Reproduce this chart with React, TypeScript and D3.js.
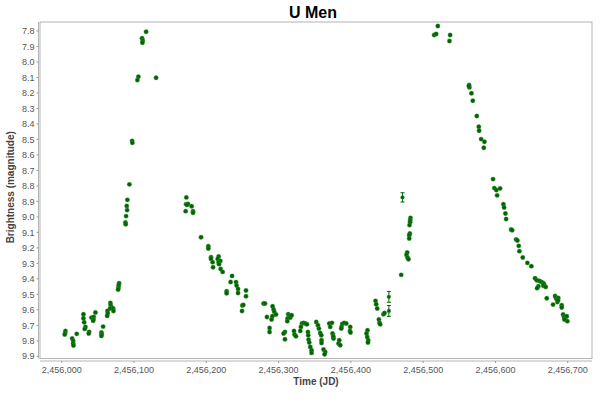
import * as d3 from 'd3';

// Light curve of U Men, JD relative to 2,456,000 and visual magnitude
const JD0 = 2456000;

const firstRise: [number, number][] = [
  [5.1, 9.736], [4.7, 9.749], [4.1, 9.759], [14.4, 9.785], [15.8, 9.801], [15.8, 9.817],
  [16.2, 9.83], [20.7, 9.755], [30.0, 9.628], [30.0, 9.654], [31.0, 9.68], [32.8, 9.71],
  [31.8, 9.723], [37.9, 9.742], [37.3, 9.753], [41.1, 9.65], [44.2, 9.646], [43.8, 9.662],
  [43.4, 9.671], [46.6, 9.617], [57.2, 9.708], [54.9, 9.746], [55.3, 9.757], [54.9, 9.768],
  [63.2, 9.607], [63.6, 9.624], [62.8, 9.639], [67.3, 9.555], [67.7, 9.57], [68.7, 9.583],
  [66.9, 9.591], [71.1, 9.591], [71.5, 9.607], [79.3, 9.428], [78.8, 9.441], [78.4, 9.458],
  [78.0, 9.469], [88.1, 9.036], [88.5, 9.047], [89.0, 8.995], [89.9, 8.929], [90.4, 8.956],
  [90.8, 8.89], [93.6, 8.79], [97.3, 8.509], [97.7, 8.522], [106.0, 8.095], [104.6, 8.117],
  [111.1, 7.847], [112.0, 7.863], [111.6, 7.876], [116.7, 7.805], [130.5, 8.102],
];

const firstDecline: [number, number][] = [
  [172.4, 8.874], [172.0, 8.918], [174.7, 8.916], [173.3, 8.922], [179.7, 8.931], [171.4, 8.963],
  [181.6, 8.963], [181.6, 8.974], [192.7, 9.131], [202.8, 9.189], [202.8, 9.204], [206.5, 9.26],
  [206.5, 9.271], [217.0, 9.255], [215.7, 9.271], [219.4, 9.284], [217.0, 9.292], [217.6, 9.305],
  [208.7, 9.292], [209.3, 9.325], [219.8, 9.336], [222.6, 9.355], [235.6, 9.381], [233.6, 9.42],
  [241.1, 9.421], [241.9, 9.443], [243.9, 9.465], [243.9, 9.491], [228.1, 9.48], [228.1, 9.493],
  [254.9, 9.475], [254.9, 9.512], [249.8, 9.572], [251.2, 9.568], [249.4, 9.607],
];

const minimum: [number, number][] = [
  [279.2, 9.559], [281.2, 9.559], [283.9, 9.646], [287.5, 9.717], [287.5, 9.743], [291.7, 9.577],
  [293.1, 9.598], [294.0, 9.613], [296.4, 9.63], [291.3, 9.641], [290.3, 9.662], [308.8, 9.743],
  [306.9, 9.753], [308.8, 9.79], [313.4, 9.628], [315.2, 9.637], [312.4, 9.656], [312.0, 9.673],
  [316.2, 9.65], [318.0, 9.635], [321.3, 9.736], [322.1, 9.759], [324.0, 9.77], [332.3, 9.688],
  [334.5, 9.684], [336.9, 9.688], [339.2, 9.693], [330.9, 9.71], [330.0, 9.736], [340.6, 9.743],
  [341.0, 9.764], [341.4, 9.792], [342.4, 9.811], [343.8, 9.839], [345.6, 9.861], [345.6, 9.878],
  [352.1, 9.678], [354.4, 9.699], [355.8, 9.721], [357.6, 9.749], [359.0, 9.764], [359.4, 9.796],
  [359.4, 9.814], [362.2, 9.856], [364.5, 9.872], [363.6, 9.887], [370.1, 9.688], [371.4, 9.71],
  [373.8, 9.684], [374.6, 9.753], [375.6, 9.77], [376.0, 9.785], [383.9, 9.796], [382.9, 9.817],
  [385.3, 9.828], [388.0, 9.691], [390.8, 9.684], [393.6, 9.688], [387.1, 9.71], [386.7, 9.721],
  [399.1, 9.71], [398.7, 9.736], [399.5, 9.746], [423.0, 9.732], [421.6, 9.753], [422.6, 9.775],
  [424.0, 9.796], [423.6, 9.811],
];

const secondRise: [number, number][] = [
  [434.1, 9.542], [435.0, 9.564], [436.4, 9.591], [438.8, 9.662], [439.6, 9.684], [440.6, 9.693],
  [445.1, 9.628], [446.5, 9.62], [469.6, 9.374], [477.9, 9.23], [476.9, 9.245], [478.3, 9.262],
  [479.7, 9.273], [481.6, 9.107], [480.7, 9.118], [480.7, 9.139], [482.5, 9.006], [482.0, 9.021],
  [482.0, 9.034], [481.1, 9.053], [520.3, 7.768], [515.2, 7.826], [518.0, 7.819], [537.3, 7.826],
  [536.4, 7.865],
];

const secondDecline: [number, number][] = [
  [563.6, 8.149], [564.0, 8.164], [563.2, 8.155], [566.8, 8.202], [568.7, 8.25], [574.2, 8.349],
  [577.0, 8.418], [577.4, 8.444], [580.2, 8.498], [584.8, 8.515], [583.9, 8.554], [596.7, 8.756],
  [598.5, 8.814], [601.3, 8.827], [606.4, 8.816], [602.3, 8.861], [611.0, 8.918], [612.0, 8.939],
  [613.8, 8.978], [614.8, 9.014], [621.7, 9.081], [623.1, 9.086], [628.6, 9.146], [630.4, 9.152],
  [632.3, 9.187], [633.1, 9.221], [637.8, 9.262], [644.2, 9.297], [649.7, 9.318], [654.8, 9.396],
  [657.2, 9.409], [660.8, 9.413], [663.6, 9.42], [665.9, 9.426], [667.3, 9.434], [666.3, 9.445],
  [669.6, 9.452], [659.4, 9.447], [657.6, 9.46], [671.0, 9.525], [682.5, 9.51], [683.4, 9.52],
  [684.8, 9.531], [687.0, 9.523], [685.7, 9.549], [686.6, 9.538], [679.7, 9.566], [691.7, 9.57],
  [691.7, 9.585], [693.6, 9.63], [694.9, 9.646], [696.3, 9.656], [698.7, 9.641], [699.5, 9.673],
  [695.4, 9.662],
];

// observations drawn with an uncertainty: [jd, mag, error]
const withErrors: [number, number, number][] = [
  [452.6, 9.516, 0.035], [452.6, 9.607, 0.035], [471.4, 8.874, 0.03], [375.6, 9.77, 0.015],
];

const yTicks = [7.8, 7.9, 8.0, 8.1, 8.2, 8.3, 8.4, 8.5, 8.6, 8.7, 8.8, 8.9, 9.0, 9.1, 9.2, 9.3, 9.4, 9.5, 9.6, 9.7, 9.8, 9.9];
const xTicks = [2456000, 2456100, 2456200, 2456300, 2456400, 2456500, 2456600, 2456700];

const WIDTH = 600;
const HEIGHT = 399;
const plot = { left: 40, top: 22, right: 592, bottom: 358.5 };
const GREEN = '#006400';
const FONT = '"Liberation Sans", Arial, sans-serif';

export default function App() {
  const x = d3.scaleLinear().domain([2455969.9, 2456733.6]).range([plot.left, plot.right]);
  const y = d3.scaleLinear().domain([7.742, 9.914]).range([plot.top, plot.bottom]);
  const fmt = d3.format(',');

  const points = [...firstRise, ...firstDecline, ...minimum, ...secondRise, ...secondDecline];
  const axisY = plot.bottom + 2.5;
  const axisX = plot.left - 1.5;

  return (
    <div style={{ position: 'absolute', left: 0, top: 0 }}>
      <svg width={WIDTH} height={HEIGHT} style={{ display: 'block', fontFamily: FONT }}>
        <rect width={WIDTH} height={HEIGHT} fill="#fff" />
        <text x={313} y={17.5} textAnchor="middle" fontSize={16} fontWeight="bold" fill="#000">
          U Men
        </text>

        {/* plot frame */}
        <rect
          x={plot.left}
          y={plot.top}
          width={plot.right - plot.left}
          height={plot.bottom - plot.top}
          fill="#fff"
          stroke="#b4b4b4"
          strokeWidth={1}
        />

        {/* y axis */}
        <line x1={axisX} x2={axisX} y1={plot.top} y2={plot.bottom} stroke="#b4b4b4" />
        {yTicks.map(t => (
          <g key={t} transform={`translate(0,${y(t)})`}>
            <line x1={axisX - 2} x2={axisX} stroke="#999" />
            <text x={axisX - 4} dy="0.35em" textAnchor="end" fontSize={9} fill="#555">
              {t.toFixed(1)}
            </text>
          </g>
        ))}
        <text
          transform={`translate(14,${(plot.top + plot.bottom) / 2 - 3}) rotate(-90)`}
          textAnchor="middle"
          fontSize={10}
          fontWeight="bold"
          fill="#444"
        >
          Brightness (magnitude)
        </text>

        {/* x axis */}
        <line x1={plot.left} x2={plot.right} y1={axisY} y2={axisY} stroke="#b4b4b4" />
        {xTicks.map(t => (
          <g key={t} transform={`translate(${x(t)},${axisY})`}>
            <line y1={0} y2={2} stroke="#999" />
            <text y={12} textAnchor="middle" fontSize={9} fill="#555">
              {fmt(t)}
            </text>
          </g>
        ))}
        <text x={(plot.left + plot.right) / 2} y={385} textAnchor="middle" fontSize={10} fontWeight="bold" fill="#444">
          Time (JD)
        </text>

        {/* error bars */}
        <g stroke={GREEN} strokeWidth={1}>
          {withErrors.map(([jd, mag, err], i) => {
            const cx = x(JD0 + jd);
            return (
              <g key={i}>
                <line x1={cx} x2={cx} y1={y(mag - err)} y2={y(mag + err)} />
                <line x1={cx - 2} x2={cx + 2} y1={y(mag - err)} y2={y(mag - err)} />
                <line x1={cx - 2} x2={cx + 2} y1={y(mag + err)} y2={y(mag + err)} />
              </g>
            );
          })}
        </g>

        {/* observations */}
        <g fill={GREEN} stroke="#4a9a4a" strokeWidth={0.4}>
          {points.map(([jd, mag], i) => (
            <circle key={i} cx={x(JD0 + jd)} cy={y(mag)} r={2.2} />
          ))}
          {withErrors.map(([jd, mag], i) => (
            <circle key={`e${i}`} cx={x(JD0 + jd)} cy={y(mag)} r={1.9} />
          ))}
        </g>
      </svg>
    </div>
  );
}
